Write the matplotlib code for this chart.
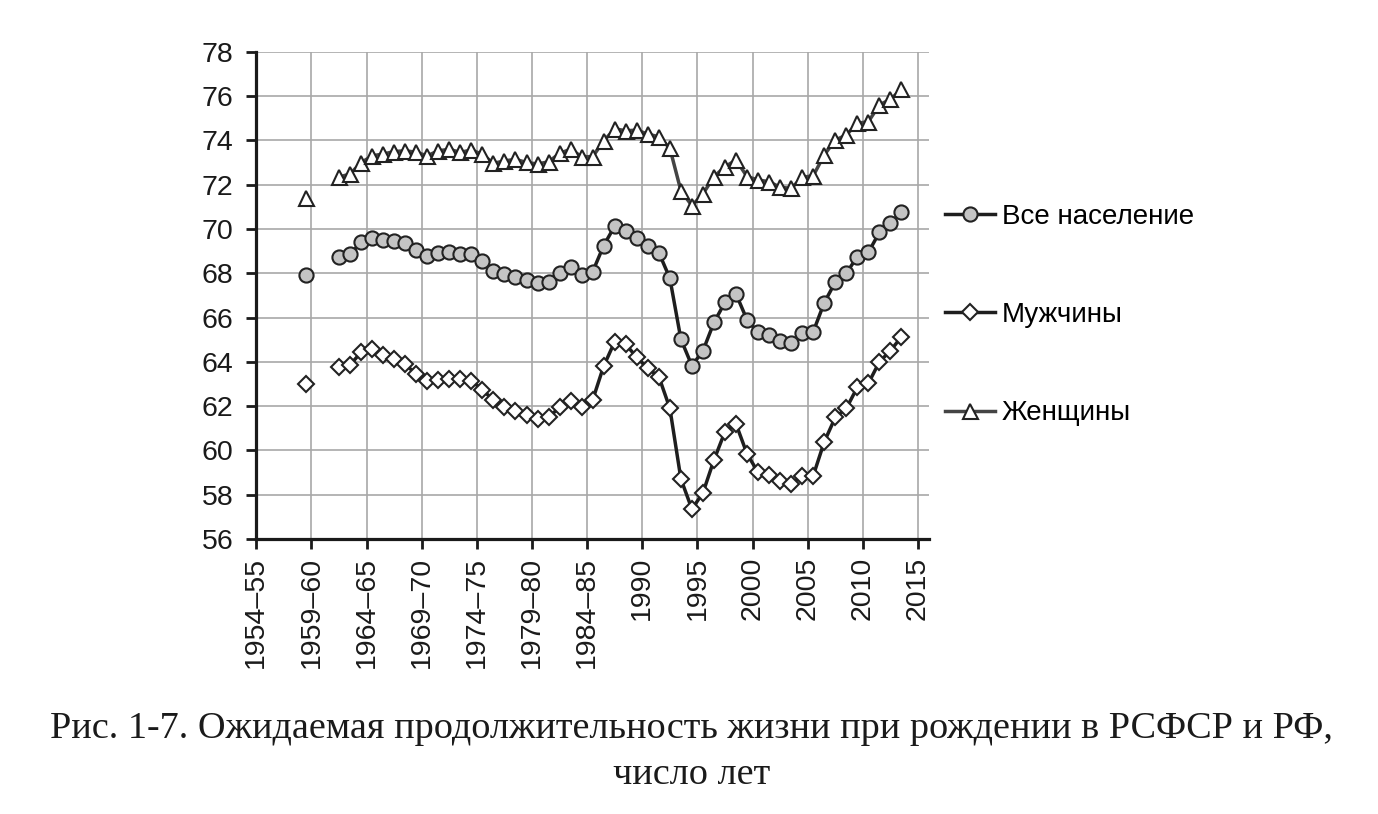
import matplotlib
matplotlib.use("Agg")
import matplotlib.pyplot as plt
import numpy as np

plt.rcParams['font.family'] = ['Liberation Sans', 'DejaVu Sans']

# first (isolated) point: 1958-59
first_year = 1959
first_all = 67.9
first_men = 63.0
first_women = 71.4

# yearly series 1962..2013
years = list(range(1962, 2014))
all_pop = [68.73, 68.85, 69.40, 69.60, 69.50, 69.45, 69.35, 69.05, 68.79, 68.93,
           68.94, 68.87, 68.87, 68.56, 68.11, 67.95, 67.81, 67.69, 67.54, 67.62,
           68.00, 68.27, 67.90, 68.07, 69.25, 70.13, 69.90, 69.57, 69.23, 68.93,
           67.77, 65.02, 63.82, 64.50, 65.78, 66.69, 67.06, 65.89, 65.33, 65.21,
           64.95, 64.83, 65.31, 65.36, 66.67, 67.60, 68.00, 68.75, 68.94, 69.85,
           70.25, 70.78]
men = [63.75, 63.86, 64.43, 64.56, 64.31, 64.13, 63.89, 63.44, 63.13, 63.18,
       63.21, 63.21, 63.15, 62.73, 62.28, 61.97, 61.78, 61.60, 61.42, 61.49,
       61.95, 62.25, 61.95, 62.28, 63.81, 64.91, 64.79, 64.20, 63.70, 63.33,
       61.90, 58.71, 57.35, 58.09, 59.57, 60.85, 61.19, 59.84, 59.01, 58.89,
       58.63, 58.48, 58.86, 58.86, 60.39, 61.49, 61.90, 62.85, 63.03, 64.00,
       64.50, 65.13]
women = [72.34, 72.48, 72.99, 73.30, 73.38, 73.49, 73.53, 73.46, 73.30, 73.53,
         73.59, 73.46, 73.56, 73.37, 72.96, 73.07, 73.14, 73.00, 72.93, 73.03,
         73.41, 73.60, 73.26, 73.26, 73.97, 74.52, 74.43, 74.46, 74.28, 74.16,
         73.64, 71.72, 71.05, 71.58, 72.36, 72.81, 73.11, 72.36, 72.21, 72.13,
         71.88, 71.83, 72.33, 72.40, 73.34, 74.01, 74.24, 74.77, 74.84, 75.60,
         75.85, 76.30]

tick_pos = list(range(1955, 2016, 5))
tick_labels = ["1954–55", "1959–60", "1964–65", "1969–70", "1974–75", "1979–80",
               "1984–85", "1990", "1995", "2000", "2005", "2010", "2015"]

labels = ["Все население", "Мужчины", "Женщины"]
caption1 = "Рис. 1-7. Ожидаемая продолжительность жизни при рождении в РСФСР и РФ,"
caption2 = "число лет"

# points sit in the middle of each year
x = np.array(years) + 0.5
x0 = first_year + 0.5

fig = plt.figure(figsize=(13.78, 8.14), dpi=100)
ax = fig.add_axes([0.186, 0.3378, 0.4882, 0.5987])

line_c = "#1e1e1e"
edge_c = "#222222"
styles = [
    dict(marker="o", ms=10.2, mfc="#c4c4c4", color=line_c),
    dict(marker="D", ms=7.8, mfc="white", color=line_c),
    dict(marker="^", ms=10.8, mfc="white", color="#444444"),
]
series = [(first_all, all_pop), (first_men, men), (first_women, women)]

handles = []
for (v0, vals), st, lab in zip(series, styles, labels):
    h, = ax.plot(x, vals, lw=2.5, mec=edge_c, mew=1.5, label=lab, zorder=3, **st)
    ax.plot([x0], [v0], lw=0, mec=edge_c, mew=1.5, zorder=3,
            **{k: v for k, v in st.items() if k != "color"})
    handles.append(h)

ax.set_xlim(1955, 2016)
ax.set_ylim(56, 78)
ax.set_yticks(range(56, 79, 2))
ax.set_xticks(tick_pos)
ax.set_xticklabels(tick_labels, rotation=90)
ax.grid(True, color="#a8a8a8", lw=1.2, zorder=0)
ax.set_axisbelow(True)

for s in ["top", "right"]:
    ax.spines[s].set_visible(False)
for s in ["left", "bottom"]:
    ax.spines[s].set_linewidth(2.3)
    ax.spines[s].set_color("#1a1a1a")
ax.tick_params(axis="both", direction="out", length=7.5, width=2.0,
               color="#1a1a1a", labelsize=20.5, labelcolor="#1a1a1a")
ax.tick_params(axis="y", pad=9)
ax.tick_params(axis="x", pad=5)

fig.legend(handles=handles, loc="center left",
           bbox_to_anchor=(945 / 1378, 1 - 315 / 814), frameon=False,
           fontsize=20, labelspacing=2.6, handlelength=1.8, handletextpad=0.25,
           borderpad=0, borderaxespad=0, numpoints=1)

fig.text(0.502, 1 - 738 / 814, caption1, ha="center", va="baseline",
         fontsize=27.5, family="Liberation Serif", color="#1a1a1a")
fig.text(0.502, 1 - 784 / 814, caption2, ha="center", va="baseline",
         fontsize=27.5, family="Liberation Serif", color="#1a1a1a")

fig.savefig("out.png", dpi=100)
